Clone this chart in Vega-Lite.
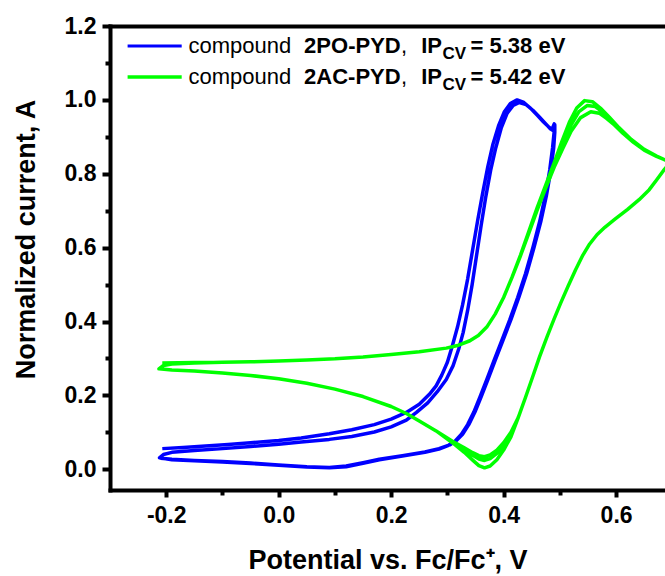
{
"$schema": "https://vega.github.io/schema/vega-lite/v6.json",
"width": 555, "height": 464,
"autosize": {"type": "none"},
"padding": {"left": 110, "top": 26, "right": 0, "bottom": 86},
"background": "white",
"config": {
  "view": {"stroke": null},
  "font": "Liberation Sans",
  "axis": {"domainColor": "black", "domainWidth": 4, "domainCap": "square", "tickColor": "black", "tickWidth": 4, "grid": false,
    "labelFont": "Liberation Sans", "labelFontWeight": "bold", "labelFontSize": 23, "labelColor": "black",
    "titleFont": "Liberation Sans", "titleFontWeight": "bold", "titleFontSize": 27, "titleColor": "black"}
},
"resolve": {"axis": {"x": "independent", "y": "independent"}},
"layer": [
{
  "data": {"values": [
{"s":"2PO-PYD","x":-0.207,"y":0.056},{"s":"2PO-PYD","x":-0.17,"y":0.059},{"s":"2PO-PYD","x":-0.13,"y":0.063},{"s":"2PO-PYD","x":-0.09,"y":0.067},{"s":"2PO-PYD","x":-0.05,"y":0.072},{"s":"2PO-PYD","x":0.0,"y":0.078},{"s":"2PO-PYD","x":0.04,"y":0.085},{"s":"2PO-PYD","x":0.09,"y":0.096},{"s":"2PO-PYD","x":0.13,"y":0.107},{"s":"2PO-PYD","x":0.17,"y":0.121},{"s":"2PO-PYD","x":0.20,"y":0.136},{"s":"2PO-PYD","x":0.227,"y":0.154},{"s":"2PO-PYD","x":0.25,"y":0.176},{"s":"2PO-PYD","x":0.268,"y":0.203},{"s":"2PO-PYD","x":0.28,"y":0.226},{"s":"2PO-PYD","x":0.29,"y":0.255},{"s":"2PO-PYD","x":0.30,"y":0.29},{"s":"2PO-PYD","x":0.309,"y":0.335},{"s":"2PO-PYD","x":0.318,"y":0.385},{"s":"2PO-PYD","x":0.327,"y":0.445},{"s":"2PO-PYD","x":0.336,"y":0.515},{"s":"2PO-PYD","x":0.345,"y":0.595},{"s":"2PO-PYD","x":0.354,"y":0.675},{"s":"2PO-PYD","x":0.363,"y":0.75},{"s":"2PO-PYD","x":0.372,"y":0.82},{"s":"2PO-PYD","x":0.381,"y":0.88},{"s":"2PO-PYD","x":0.391,"y":0.93},{"s":"2PO-PYD","x":0.401,"y":0.967},{"s":"2PO-PYD","x":0.412,"y":0.99},{"s":"2PO-PYD","x":0.424,"y":1.0},{"s":"2PO-PYD","x":0.436,"y":0.993},{"s":"2PO-PYD","x":0.448,"y":0.977},{"s":"2PO-PYD","x":0.46,"y":0.958},{"s":"2PO-PYD","x":0.471,"y":0.94},{"s":"2PO-PYD","x":0.48,"y":0.927},{"s":"2PO-PYD","x":0.486,"y":0.92},{"s":"2PO-PYD","x":0.49,"y":0.935},
{"s":"2PO-PYD","x":0.49,"y":0.915},{"s":"2PO-PYD","x":0.487,"y":0.87},{"s":"2PO-PYD","x":0.482,"y":0.81},{"s":"2PO-PYD","x":0.474,"y":0.74},{"s":"2PO-PYD","x":0.464,"y":0.67},{"s":"2PO-PYD","x":0.452,"y":0.6},{"s":"2PO-PYD","x":0.439,"y":0.53},{"s":"2PO-PYD","x":0.425,"y":0.465},{"s":"2PO-PYD","x":0.411,"y":0.405},{"s":"2PO-PYD","x":0.397,"y":0.35},{"s":"2PO-PYD","x":0.383,"y":0.295},{"s":"2PO-PYD","x":0.37,"y":0.243},{"s":"2PO-PYD","x":0.358,"y":0.196},{"s":"2PO-PYD","x":0.347,"y":0.155},{"s":"2PO-PYD","x":0.336,"y":0.121},{"s":"2PO-PYD","x":0.325,"y":0.095},{"s":"2PO-PYD","x":0.314,"y":0.077},{"s":"2PO-PYD","x":0.302,"y":0.065},{"s":"2PO-PYD","x":0.285,"y":0.055},{"s":"2PO-PYD","x":0.26,"y":0.046},{"s":"2PO-PYD","x":0.22,"y":0.036},{"s":"2PO-PYD","x":0.179,"y":0.026},{"s":"2PO-PYD","x":0.15,"y":0.016},{"s":"2PO-PYD","x":0.12,"y":0.007},{"s":"2PO-PYD","x":0.09,"y":0.004},{"s":"2PO-PYD","x":0.05,"y":0.006},{"s":"2PO-PYD","x":0.0,"y":0.011},{"s":"2PO-PYD","x":-0.05,"y":0.016},{"s":"2PO-PYD","x":-0.1,"y":0.02},{"s":"2PO-PYD","x":-0.15,"y":0.023},{"s":"2PO-PYD","x":-0.19,"y":0.026},{"s":"2PO-PYD","x":-0.212,"y":0.031},
{"s":"2PO-PYD","x":-0.205,"y":0.04},{"s":"2PO-PYD","x":-0.19,"y":0.046},{"s":"2PO-PYD","x":-0.15,"y":0.051},{"s":"2PO-PYD","x":-0.1,"y":0.056},{"s":"2PO-PYD","x":-0.05,"y":0.062},{"s":"2PO-PYD","x":0.0,"y":0.068},{"s":"2PO-PYD","x":0.04,"y":0.074},{"s":"2PO-PYD","x":0.09,"y":0.081},{"s":"2PO-PYD","x":0.13,"y":0.089},{"s":"2PO-PYD","x":0.17,"y":0.101},{"s":"2PO-PYD","x":0.2,"y":0.115},{"s":"2PO-PYD","x":0.227,"y":0.133},{"s":"2PO-PYD","x":0.245,"y":0.154},{"s":"2PO-PYD","x":0.265,"y":0.18},{"s":"2PO-PYD","x":0.282,"y":0.21},{"s":"2PO-PYD","x":0.298,"y":0.243},{"s":"2PO-PYD","x":0.31,"y":0.28},{"s":"2PO-PYD","x":0.32,"y":0.325},{"s":"2PO-PYD","x":0.328,"y":0.37},{"s":"2PO-PYD","x":0.336,"y":0.43},{"s":"2PO-PYD","x":0.344,"y":0.5},{"s":"2PO-PYD","x":0.352,"y":0.58},{"s":"2PO-PYD","x":0.36,"y":0.66},{"s":"2PO-PYD","x":0.368,"y":0.735},{"s":"2PO-PYD","x":0.377,"y":0.81},{"s":"2PO-PYD","x":0.386,"y":0.87},{"s":"2PO-PYD","x":0.396,"y":0.925},{"s":"2PO-PYD","x":0.406,"y":0.963},{"s":"2PO-PYD","x":0.417,"y":0.985},{"s":"2PO-PYD","x":0.428,"y":0.993},{"s":"2PO-PYD","x":0.44,"y":0.987},{"s":"2PO-PYD","x":0.452,"y":0.972},{"s":"2PO-PYD","x":0.464,"y":0.953},{"s":"2PO-PYD","x":0.475,"y":0.935},{"s":"2PO-PYD","x":0.483,"y":0.922},{"s":"2PO-PYD","x":0.488,"y":0.917},{"s":"2PO-PYD","x":0.491,"y":0.933},
{"s":"2PO-PYD","x":0.491,"y":0.912},{"s":"2PO-PYD","x":0.489,"y":0.87},{"s":"2PO-PYD","x":0.484,"y":0.81},{"s":"2PO-PYD","x":0.476,"y":0.74},{"s":"2PO-PYD","x":0.466,"y":0.67},{"s":"2PO-PYD","x":0.454,"y":0.6},{"s":"2PO-PYD","x":0.441,"y":0.53},{"s":"2PO-PYD","x":0.427,"y":0.465},{"s":"2PO-PYD","x":0.413,"y":0.405},{"s":"2PO-PYD","x":0.399,"y":0.35},{"s":"2PO-PYD","x":0.385,"y":0.295},{"s":"2PO-PYD","x":0.372,"y":0.243},{"s":"2PO-PYD","x":0.36,"y":0.196},{"s":"2PO-PYD","x":0.349,"y":0.155},{"s":"2PO-PYD","x":0.338,"y":0.121},{"s":"2PO-PYD","x":0.327,"y":0.095},{"s":"2PO-PYD","x":0.316,"y":0.078},{"s":"2PO-PYD","x":0.304,"y":0.066},{"s":"2PO-PYD","x":0.285,"y":0.056},{"s":"2PO-PYD","x":0.26,"y":0.047},{"s":"2PO-PYD","x":0.22,"y":0.037},{"s":"2PO-PYD","x":0.179,"y":0.027},{"s":"2PO-PYD","x":0.15,"y":0.018},{"s":"2PO-PYD","x":0.12,"y":0.009},{"s":"2PO-PYD","x":0.09,"y":0.005},{"s":"2PO-PYD","x":0.05,"y":0.007},{"s":"2PO-PYD","x":0.0,"y":0.012},{"s":"2PO-PYD","x":-0.05,"y":0.017},{"s":"2PO-PYD","x":-0.1,"y":0.021},{"s":"2PO-PYD","x":-0.15,"y":0.024},{"s":"2PO-PYD","x":-0.19,"y":0.027},{"s":"2PO-PYD","x":-0.21,"y":0.03},

{"s":"2AC-PYD","x":-0.207,"y":0.288},{"s":"2AC-PYD","x":-0.15,"y":0.289},{"s":"2AC-PYD","x":-0.1,"y":0.29},{"s":"2AC-PYD","x":-0.05,"y":0.291},{"s":"2AC-PYD","x":0.0,"y":0.293},{"s":"2AC-PYD","x":0.05,"y":0.296},{"s":"2AC-PYD","x":0.1,"y":0.299},{"s":"2AC-PYD","x":0.15,"y":0.304},{"s":"2AC-PYD","x":0.2,"y":0.311},{"s":"2AC-PYD","x":0.25,"y":0.318},{"s":"2AC-PYD","x":0.298,"y":0.328},{"s":"2AC-PYD","x":0.32,"y":0.336},{"s":"2AC-PYD","x":0.34,"y":0.348},{"s":"2AC-PYD","x":0.355,"y":0.362},{"s":"2AC-PYD","x":0.37,"y":0.385},{"s":"2AC-PYD","x":0.385,"y":0.42},{"s":"2AC-PYD","x":0.4,"y":0.465},{"s":"2AC-PYD","x":0.415,"y":0.52},{"s":"2AC-PYD","x":0.43,"y":0.58},{"s":"2AC-PYD","x":0.445,"y":0.645},{"s":"2AC-PYD","x":0.46,"y":0.71},{"s":"2AC-PYD","x":0.475,"y":0.77},{"s":"2AC-PYD","x":0.49,"y":0.83},{"s":"2AC-PYD","x":0.503,"y":0.885},{"s":"2AC-PYD","x":0.517,"y":0.94},{"s":"2AC-PYD","x":0.53,"y":0.978},{"s":"2AC-PYD","x":0.544,"y":0.998},{"s":"2AC-PYD","x":0.558,"y":0.995},{"s":"2AC-PYD","x":0.572,"y":0.978},{"s":"2AC-PYD","x":0.588,"y":0.953},{"s":"2AC-PYD","x":0.605,"y":0.925},{"s":"2AC-PYD","x":0.627,"y":0.893},{"s":"2AC-PYD","x":0.65,"y":0.866},{"s":"2AC-PYD","x":0.672,"y":0.848},{"s":"2AC-PYD","x":0.686,"y":0.838},{"s":"2AC-PYD","x":0.697,"y":0.832},
{"s":"2AC-PYD","x":0.686,"y":0.812},{"s":"2AC-PYD","x":0.672,"y":0.783},{"s":"2AC-PYD","x":0.659,"y":0.757},{"s":"2AC-PYD","x":0.641,"y":0.73},{"s":"2AC-PYD","x":0.62,"y":0.703},{"s":"2AC-PYD","x":0.598,"y":0.677},{"s":"2AC-PYD","x":0.58,"y":0.655},{"s":"2AC-PYD","x":0.566,"y":0.635},{"s":"2AC-PYD","x":0.553,"y":0.61},{"s":"2AC-PYD","x":0.541,"y":0.58},{"s":"2AC-PYD","x":0.528,"y":0.54},{"s":"2AC-PYD","x":0.515,"y":0.497},{"s":"2AC-PYD","x":0.502,"y":0.452},{"s":"2AC-PYD","x":0.49,"y":0.408},{"s":"2AC-PYD","x":0.477,"y":0.358},{"s":"2AC-PYD","x":0.464,"y":0.305},{"s":"2AC-PYD","x":0.452,"y":0.252},{"s":"2AC-PYD","x":0.439,"y":0.195},{"s":"2AC-PYD","x":0.426,"y":0.14},
{"s":"2AC-PYD","x":0.413,"y":0.1},{"s":"2AC-PYD","x":0.4,"y":0.072},{"s":"2AC-PYD","x":0.388,"y":0.052},{"s":"2AC-PYD","x":0.376,"y":0.039},{"s":"2AC-PYD","x":0.366,"y":0.034},{"s":"2AC-PYD","x":0.356,"y":0.037},{"s":"2AC-PYD","x":0.345,"y":0.045},{"s":"2AC-PYD","x":0.33,"y":0.058},{"s":"2AC-PYD","x":0.309,"y":0.076},
{"s":"2AC-PYD","x":0.28,"y":0.104},{"s":"2AC-PYD","x":0.25,"y":0.131},{"s":"2AC-PYD","x":0.227,"y":0.151},{"s":"2AC-PYD","x":0.2,"y":0.17},{"s":"2AC-PYD","x":0.15,"y":0.197},{"s":"2AC-PYD","x":0.1,"y":0.217},{"s":"2AC-PYD","x":0.05,"y":0.233},{"s":"2AC-PYD","x":0.0,"y":0.245},{"s":"2AC-PYD","x":-0.05,"y":0.254},{"s":"2AC-PYD","x":-0.1,"y":0.261},{"s":"2AC-PYD","x":-0.15,"y":0.266},{"s":"2AC-PYD","x":-0.19,"y":0.269},{"s":"2AC-PYD","x":-0.213,"y":0.272},
{"s":"2AC-PYD","x":-0.205,"y":0.281},{"s":"2AC-PYD","x":-0.19,"y":0.285},{"s":"2AC-PYD","x":-0.15,"y":0.288},{"s":"2AC-PYD","x":-0.1,"y":0.29},{"s":"2AC-PYD","x":-0.05,"y":0.291},{"s":"2AC-PYD","x":0.0,"y":0.293},{"s":"2AC-PYD","x":0.05,"y":0.296},{"s":"2AC-PYD","x":0.1,"y":0.299},{"s":"2AC-PYD","x":0.15,"y":0.304},{"s":"2AC-PYD","x":0.2,"y":0.311},{"s":"2AC-PYD","x":0.25,"y":0.318},{"s":"2AC-PYD","x":0.298,"y":0.328},{"s":"2AC-PYD","x":0.32,"y":0.336},{"s":"2AC-PYD","x":0.34,"y":0.348},{"s":"2AC-PYD","x":0.355,"y":0.362},{"s":"2AC-PYD","x":0.37,"y":0.385},{"s":"2AC-PYD","x":0.385,"y":0.42},{"s":"2AC-PYD","x":0.4,"y":0.465},{"s":"2AC-PYD","x":0.415,"y":0.52},{"s":"2AC-PYD","x":0.43,"y":0.58},{"s":"2AC-PYD","x":0.445,"y":0.645},{"s":"2AC-PYD","x":0.46,"y":0.708},{"s":"2AC-PYD","x":0.475,"y":0.767},{"s":"2AC-PYD","x":0.49,"y":0.825},{"s":"2AC-PYD","x":0.504,"y":0.875},{"s":"2AC-PYD","x":0.519,"y":0.93},{"s":"2AC-PYD","x":0.534,"y":0.968},{"s":"2AC-PYD","x":0.549,"y":0.985},{"s":"2AC-PYD","x":0.563,"y":0.982},{"s":"2AC-PYD","x":0.577,"y":0.966},{"s":"2AC-PYD","x":0.592,"y":0.944},{"s":"2AC-PYD","x":0.608,"y":0.918},{"s":"2AC-PYD","x":0.629,"y":0.889},{"s":"2AC-PYD","x":0.65,"y":0.865},{"s":"2AC-PYD","x":0.672,"y":0.847},{"s":"2AC-PYD","x":0.686,"y":0.838},{"s":"2AC-PYD","x":0.697,"y":0.832},
{"s":"2AC-PYD","x":0.686,"y":0.812},{"s":"2AC-PYD","x":0.672,"y":0.783},{"s":"2AC-PYD","x":0.659,"y":0.757},{"s":"2AC-PYD","x":0.641,"y":0.73},{"s":"2AC-PYD","x":0.62,"y":0.703},{"s":"2AC-PYD","x":0.598,"y":0.677},{"s":"2AC-PYD","x":0.58,"y":0.655},{"s":"2AC-PYD","x":0.566,"y":0.635},{"s":"2AC-PYD","x":0.553,"y":0.61},{"s":"2AC-PYD","x":0.541,"y":0.58},{"s":"2AC-PYD","x":0.528,"y":0.54},{"s":"2AC-PYD","x":0.515,"y":0.497},{"s":"2AC-PYD","x":0.502,"y":0.452},{"s":"2AC-PYD","x":0.49,"y":0.408},{"s":"2AC-PYD","x":0.477,"y":0.358},{"s":"2AC-PYD","x":0.464,"y":0.305},{"s":"2AC-PYD","x":0.452,"y":0.252},{"s":"2AC-PYD","x":0.439,"y":0.195},{"s":"2AC-PYD","x":0.426,"y":0.14},
{"s":"2AC-PYD","x":0.413,"y":0.095},{"s":"2AC-PYD","x":0.4,"y":0.065},{"s":"2AC-PYD","x":0.388,"y":0.043},{"s":"2AC-PYD","x":0.376,"y":0.029},{"s":"2AC-PYD","x":0.366,"y":0.024},{"s":"2AC-PYD","x":0.356,"y":0.028},{"s":"2AC-PYD","x":0.345,"y":0.038},{"s":"2AC-PYD","x":0.33,"y":0.054},{"s":"2AC-PYD","x":0.309,"y":0.074},
{"s":"2AC-PYD","x":0.28,"y":0.104},{"s":"2AC-PYD","x":0.25,"y":0.131},{"s":"2AC-PYD","x":0.227,"y":0.151},{"s":"2AC-PYD","x":0.2,"y":0.17},{"s":"2AC-PYD","x":0.15,"y":0.197},{"s":"2AC-PYD","x":0.1,"y":0.217},{"s":"2AC-PYD","x":0.05,"y":0.233},{"s":"2AC-PYD","x":0.0,"y":0.245},{"s":"2AC-PYD","x":-0.05,"y":0.254},{"s":"2AC-PYD","x":-0.1,"y":0.261},{"s":"2AC-PYD","x":-0.15,"y":0.266},{"s":"2AC-PYD","x":-0.19,"y":0.269},{"s":"2AC-PYD","x":-0.213,"y":0.272},
{"s":"2AC-PYD","x":-0.205,"y":0.281},{"s":"2AC-PYD","x":-0.19,"y":0.285},{"s":"2AC-PYD","x":-0.15,"y":0.288},{"s":"2AC-PYD","x":-0.1,"y":0.29},{"s":"2AC-PYD","x":-0.05,"y":0.291},{"s":"2AC-PYD","x":0.0,"y":0.293},{"s":"2AC-PYD","x":0.05,"y":0.296},{"s":"2AC-PYD","x":0.1,"y":0.299},{"s":"2AC-PYD","x":0.15,"y":0.304},{"s":"2AC-PYD","x":0.2,"y":0.311},{"s":"2AC-PYD","x":0.25,"y":0.318},{"s":"2AC-PYD","x":0.298,"y":0.328},{"s":"2AC-PYD","x":0.32,"y":0.336},{"s":"2AC-PYD","x":0.34,"y":0.348},{"s":"2AC-PYD","x":0.355,"y":0.362},{"s":"2AC-PYD","x":0.37,"y":0.385},{"s":"2AC-PYD","x":0.385,"y":0.42},{"s":"2AC-PYD","x":0.4,"y":0.465},{"s":"2AC-PYD","x":0.415,"y":0.52},{"s":"2AC-PYD","x":0.43,"y":0.578},{"s":"2AC-PYD","x":0.445,"y":0.64},{"s":"2AC-PYD","x":0.46,"y":0.703},{"s":"2AC-PYD","x":0.475,"y":0.762},{"s":"2AC-PYD","x":0.49,"y":0.818},{"s":"2AC-PYD","x":0.505,"y":0.868},{"s":"2AC-PYD","x":0.52,"y":0.915},{"s":"2AC-PYD","x":0.537,"y":0.952},{"s":"2AC-PYD","x":0.555,"y":0.968},{"s":"2AC-PYD","x":0.57,"y":0.964},{"s":"2AC-PYD","x":0.583,"y":0.95},{"s":"2AC-PYD","x":0.597,"y":0.932},{"s":"2AC-PYD","x":0.612,"y":0.91},{"s":"2AC-PYD","x":0.631,"y":0.885},{"s":"2AC-PYD","x":0.65,"y":0.864},{"s":"2AC-PYD","x":0.672,"y":0.847},{"s":"2AC-PYD","x":0.686,"y":0.838},{"s":"2AC-PYD","x":0.697,"y":0.832},
{"s":"2AC-PYD","x":0.686,"y":0.812},{"s":"2AC-PYD","x":0.672,"y":0.783},{"s":"2AC-PYD","x":0.659,"y":0.757},{"s":"2AC-PYD","x":0.641,"y":0.73},{"s":"2AC-PYD","x":0.62,"y":0.703},{"s":"2AC-PYD","x":0.598,"y":0.677},{"s":"2AC-PYD","x":0.58,"y":0.655},{"s":"2AC-PYD","x":0.566,"y":0.635},{"s":"2AC-PYD","x":0.553,"y":0.61},{"s":"2AC-PYD","x":0.541,"y":0.58},{"s":"2AC-PYD","x":0.528,"y":0.54},{"s":"2AC-PYD","x":0.515,"y":0.497},{"s":"2AC-PYD","x":0.502,"y":0.452},{"s":"2AC-PYD","x":0.49,"y":0.408},{"s":"2AC-PYD","x":0.477,"y":0.358},{"s":"2AC-PYD","x":0.464,"y":0.305},{"s":"2AC-PYD","x":0.452,"y":0.252},{"s":"2AC-PYD","x":0.439,"y":0.195},{"s":"2AC-PYD","x":0.426,"y":0.14},
{"s":"2AC-PYD","x":0.413,"y":0.088},{"s":"2AC-PYD","x":0.4,"y":0.052},{"s":"2AC-PYD","x":0.388,"y":0.026},{"s":"2AC-PYD","x":0.376,"y":0.009},{"s":"2AC-PYD","x":0.366,"y":0.004},{"s":"2AC-PYD","x":0.356,"y":0.01},{"s":"2AC-PYD","x":0.345,"y":0.025},{"s":"2AC-PYD","x":0.33,"y":0.046},{"s":"2AC-PYD","x":0.309,"y":0.072},
{"s":"2AC-PYD","x":0.28,"y":0.104},{"s":"2AC-PYD","x":0.25,"y":0.131},{"s":"2AC-PYD","x":0.227,"y":0.151},{"s":"2AC-PYD","x":0.2,"y":0.17},{"s":"2AC-PYD","x":0.15,"y":0.197},{"s":"2AC-PYD","x":0.1,"y":0.217},{"s":"2AC-PYD","x":0.05,"y":0.233},{"s":"2AC-PYD","x":0.0,"y":0.245},{"s":"2AC-PYD","x":-0.05,"y":0.254},{"s":"2AC-PYD","x":-0.1,"y":0.261},{"s":"2AC-PYD","x":-0.15,"y":0.266},{"s":"2AC-PYD","x":-0.19,"y":0.269},{"s":"2AC-PYD","x":-0.213,"y":0.272}
  ]},
  "transform": [{"window": [{"op": "row_number", "as": "n"}]}],
  "mark": {"type": "line", "strokeWidth": 3.5, "clip": true, "strokeJoin": "round"},
  "encoding": {
    "x": {"field": "x", "type": "quantitative",
      "scale": {"domain": [-0.3, 0.687], "nice": false, "zero": false},
      "axis": {"orient": "bottom", "values": [-0.2, 0, 0.2, 0.4, 0.6],
        "labelExpr": "datum.value < 0 ? '-' + format(-datum.value, '.1f') : format(datum.value, '.1f')",
        "tickSize": 7, "labelPadding": 7, "title": "Potential vs. Fc/Fc⁺, V", "titlePadding": 20}},
    "y": {"field": "y", "type": "quantitative",
      "scale": {"domain": [-0.056, 1.2], "nice": false, "zero": false},
      "axis": {"orient": "left", "values": [0, 0.2, 0.4, 0.6, 0.8, 1.0, 1.2], "format": ".1f",
        "tickSize": 8, "labelPadding": 6, "title": "Normalized current, A", "titlePadding": 24, "titleY": 213}},
    "color": {"field": "s", "type": "nominal",
      "scale": {"domain": ["2PO-PYD", "2AC-PYD"], "range": ["#0000ff", "#00ff00"]}, "legend": null},
    "order": {"field": "n"}
  }
},
{
  "data": {"values": [{}]},
  "mark": {"type": "rule", "color": "#0000ff", "strokeWidth": 3},
  "encoding": {"x": {"datum": -0.2687, "type": "quantitative", "axis": null}, "x2": {"datum": -0.1725},
    "y": {"datum": 1.1459, "type": "quantitative", "axis": null}}
},
{
  "data": {"values": [{}]},
  "mark": {"type": "rule", "color": "#00ff00", "strokeWidth": 3.5},
  "encoding": {"x": {"datum": -0.2687, "type": "quantitative", "axis": null}, "x2": {"datum": -0.1725},
    "y": {"datum": 1.0621, "type": "quantitative", "axis": null}}
},
{
  "data": {"values": [{}]},
  "mark": {"type": "text", "align": "left", "baseline": "middle", "fontSize": 22, "lineHeight": 31, "color": "black"},
  "encoding": {
    "x": {"datum": -0.1604, "type": "quantitative", "axis": {"orient": "bottom", "values": [-0.1, 0.1, 0.3, 0.5], "tickSize": 5, "labels": false, "domain": false, "title": null}},
    "y": {"datum": 1.1459, "type": "quantitative", "axis": {"orient": "left", "values": [0.1, 0.3, 0.5, 0.7, 0.9, 1.1], "tickSize": 5, "labels": false, "domain": false, "title": null}},
    "text": {"value": ["compound", "compound"]}}
},
{
  "data": {"values": [{}]},
  "mark": {"type": "text", "align": "left", "baseline": "middle", "fontSize": 22, "fontWeight": "bold", "lineHeight": 31, "color": "black"},
  "encoding": {
    "x": {"datum": 0.0452, "type": "quantitative", "axis": {"orient": "top", "ticks": false, "labels": false, "domain": true, "title": null}},
    "y": {"datum": 1.1459, "type": "quantitative", "axis": null},
    "text": {"value": ["2PO-PYD", "2AC-PYD"]}}
},
{
  "data": {"values": [{}]},
  "mark": {"type": "text", "align": "left", "baseline": "middle", "fontSize": 22, "lineHeight": 31, "color": "black"},
  "encoding": {
    "x": {"datum": 0.2173, "type": "quantitative", "axis": null},
    "y": {"datum": 1.1459, "type": "quantitative", "axis": null},
    "text": {"value": [",", ","]}}
},
{
  "data": {"values": [{}]},
  "mark": {"type": "text", "align": "left", "baseline": "middle", "fontSize": 22, "fontWeight": "bold", "lineHeight": 31, "color": "black"},
  "encoding": {
    "x": {"datum": 0.2534, "type": "quantitative", "axis": null},
    "y": {"datum": 1.1459, "type": "quantitative", "axis": null},
    "text": {"value": ["IP", "IP"]}}
},
{
  "data": {"values": [{}]},
  "mark": {"type": "text", "align": "left", "baseline": "middle", "fontSize": 17, "fontWeight": "bold", "lineHeight": 31, "dy": 8, "color": "black"},
  "encoding": {
    "x": {"datum": 0.2911, "type": "quantitative", "axis": null},
    "y": {"datum": 1.1459, "type": "quantitative", "axis": null},
    "text": {"value": ["CV", "CV"]}}
},
{
  "data": {"values": [{}]},
  "mark": {"type": "text", "align": "left", "baseline": "middle", "fontSize": 22, "fontWeight": "bold", "lineHeight": 31, "color": "black"},
  "encoding": {
    "x": {"datum": 0.3412, "type": "quantitative", "axis": null},
    "y": {"datum": 1.1459, "type": "quantitative", "axis": null},
    "text": {"value": ["= 5.38 eV", "= 5.42 eV"]}}
}
]
}
